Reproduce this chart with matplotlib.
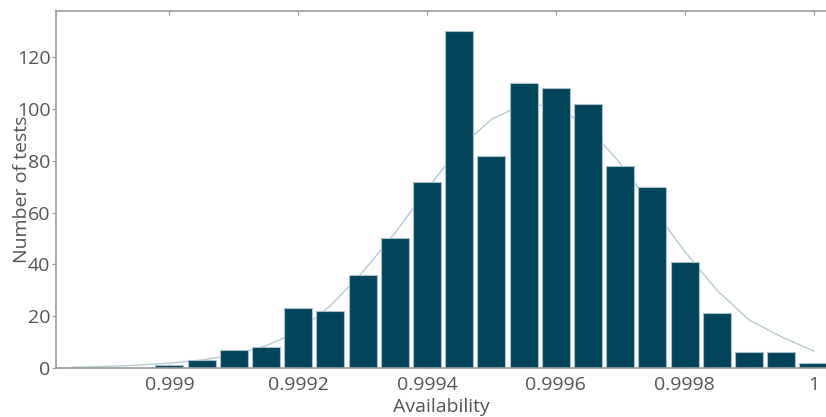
import numpy as np
import matplotlib
matplotlib.use("Agg")
import matplotlib.pyplot as plt

plt.rcParams['font.family'] = ['Open Sans', 'DejaVu Sans']

# histogram of availability per test (bin centres, step 0.00005)
bin_centers = [0.999, 0.99905, 0.9991, 0.99915, 0.9992, 0.99925, 0.9993,
               0.99935, 0.9994, 0.99945, 0.9995, 0.99955, 0.9996, 0.99965,
               0.9997, 0.99975, 0.9998, 0.99985, 0.9999, 0.99995, 1.0]
counts = [1, 3, 7, 8, 23, 22, 36, 50, 72, 130, 82, 110, 108, 102,
          78, 70, 41, 21, 6, 6, 2]
bin_width = 0.00005

# fitted curve
curve_x = [0.99885, 0.9989, 0.99895, 0.999, 0.99905, 0.9991, 0.99915,
           0.9992, 0.99925, 0.9993, 0.99935, 0.9994, 0.99945, 0.9995,
           0.99955, 0.9996, 0.99965, 0.9997, 0.99975, 0.9998, 0.99985,
           0.9999, 0.99995, 1.0]
curve_y = [0.2, 0.5, 1.0, 1.8, 3.0, 5.0, 8.5, 14, 24, 37, 52, 69, 85, 96,
           102, 101, 93, 79, 62, 45, 30, 18.5, 12, 6.5]

xtick_vals = [0.999, 0.9992, 0.9994, 0.9996, 0.9998, 1.0]
xtick_labels = ["0.999", "0.9992", "0.9994", "0.9996", "0.9998", "1"]
ytick_vals = [0, 20, 40, 60, 80, 100, 120]

bar_color = "#03445b"
edge_color = "#a9c0ca"
curve_color = "#b5cbd2"
axis_color = "#9a9a9a"
text_color = "#555555"
fs = 14

fig = plt.figure(figsize=(8.26, 4.17), dpi=100)
ax = fig.add_axes([0.0678, 0.118, 0.9322, 0.8556])

ax.bar(bin_centers, counts, width=bin_width * 0.87, color=bar_color,
       edgecolor=edge_color, linewidth=0.8, zorder=2)
ax.plot(curve_x, curve_y, color=curve_color, linewidth=1.0, zorder=1)

ax.set_xlim(0.998824, 1.0000194)
ax.set_ylim(0, 137.9)

ax.set_xticks(xtick_vals)
ax.set_xticklabels(xtick_labels)
ax.set_yticks(ytick_vals)

ax.spines['right'].set_visible(False)
for s in ['left', 'top', 'bottom']:
    ax.spines[s].set_color(axis_color)
    ax.spines[s].set_linewidth(1.2)

ax.tick_params(axis='x', direction='in', length=3, color=axis_color,
               top=True, labelsize=fs, labelcolor=text_color, pad=6)
ax.tick_params(axis='y', direction='out', length=3, color=axis_color,
               labelsize=fs, labelcolor=text_color, pad=1)

ax.set_xlabel("Availability", fontsize=fs, color=text_color, labelpad=3)
ax.set_ylabel("Number of tests", fontsize=fs, color=text_color)
ax.yaxis.set_label_coords(-0.0325, 0.5)

fig.savefig("out.png", dpi=100)
